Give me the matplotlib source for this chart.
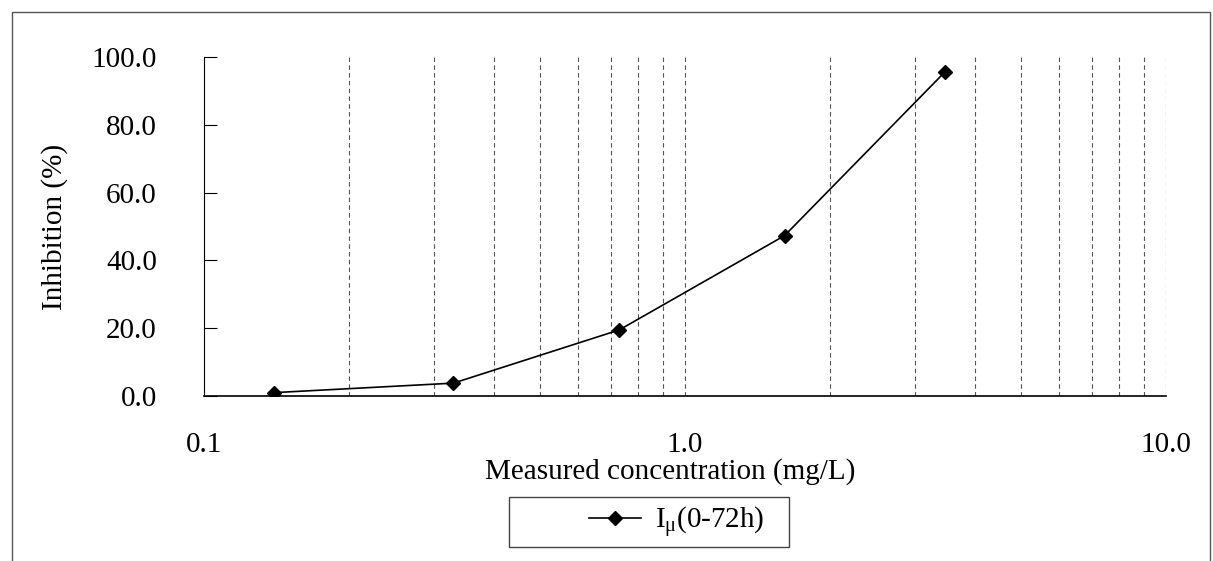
import matplotlib.pyplot as plt
import numpy as np
from matplotlib.lines import Line2D
from matplotlib.patches import Rectangle
from matplotlib.ticker import FixedLocator, FuncFormatter, NullFormatter

# Measured concentration (mg/L) vs inhibition (%)
concentration = [0.14, 0.33, 0.73, 1.61, 3.47]
inhibition = [1.0, 3.8, 19.5, 47.3, 95.6]
series_label = r"I$_{\mathregular{\mu}}$(0-72h)"

x_major = [0.1, 1.0, 10.0]
x_grid = [v * d for d in (0.1, 1.0) for v in range(2, 10)] + [1.0, 10.0]
y_ticks = [0, 20, 40, 60, 80, 100]

plt.rcParams["font.family"] = ["Liberation Serif", "DejaVu Serif"]
plt.rcParams["mathtext.fontset"] = "custom"
plt.rcParams["mathtext.rm"] = "Liberation Serif"
plt.rcParams["mathtext.it"] = "Liberation Serif:italic"

fs = 21

fig = plt.figure(figsize=(12.13, 5.61), dpi=100)
ax = fig.add_axes([0.1682, 0.2941, 0.9613 - 0.1682, 0.8984 - 0.2941])

# dashed vertical grid on the log minors
for gx in x_grid:
    ax.axvline(gx, color="#555555", linewidth=0.8, linestyle=(0, (4, 3)), zorder=1)

ax.plot(concentration, inhibition, color="black", linewidth=1.2,
        marker="D", markersize=7.5, zorder=3)

ax.set_xscale("log")
ax.set_xlim(0.1, 10)
ax.set_ylim(0, 100)

ax.xaxis.set_major_locator(FixedLocator(x_major))
ax.xaxis.set_major_formatter(FuncFormatter(lambda v, p: f"{v:.1f}"))
ax.xaxis.set_minor_formatter(NullFormatter())
ax.tick_params(axis="x", which="both", length=0, pad=26, labelsize=fs)

ax.set_yticks(y_ticks)
ax.yaxis.set_major_formatter(FuncFormatter(lambda v, p: f"{v:.1f}"))
ax.tick_params(axis="y", direction="in", length=9, width=0.8, pad=34, labelsize=fs)

for side in ("top", "right"):
    ax.spines[side].set_visible(False)
ax.spines["left"].set_linewidth(0.8)
ax.spines["bottom"].set_linewidth(1.2)

ax.set_xlabel("Measured concentration (mg/L)", fontsize=fs, va="center")
ax.xaxis.set_label_coords(0.4844, -0.224)
ax.set_ylabel("Inhibition (%)", fontsize=fs, va="center", ha="center")
ax.yaxis.set_label_coords(-0.155, 0.5)

# legend: frame drawn separately so the entry can sit off-centre like the original
handle = Line2D([], [], color="black", linewidth=1.2, marker="D", markersize=7)
fig.legend([handle], [series_label], loc="center", bbox_to_anchor=(676.5 / 1213, 1 - 522 / 561),
           fontsize=fs, frameon=False, handlelength=1.78, handletextpad=0.48,
           borderpad=0, borderaxespad=0)
fig.add_artist(Rectangle((509 / 1213, 1 - 547 / 561), 280 / 1213, 50 / 561,
                         transform=fig.transFigure, fill=False,
                         edgecolor="#444444", linewidth=1.0))

# outer chart frame (bottom edge falls outside the image)
fig.add_artist(Rectangle((0.0099, -0.02), 0.9876, 0.9986, transform=fig.transFigure,
                         fill=False, edgecolor="#555555", linewidth=1.0))

fig.savefig("out.png", dpi=100)
